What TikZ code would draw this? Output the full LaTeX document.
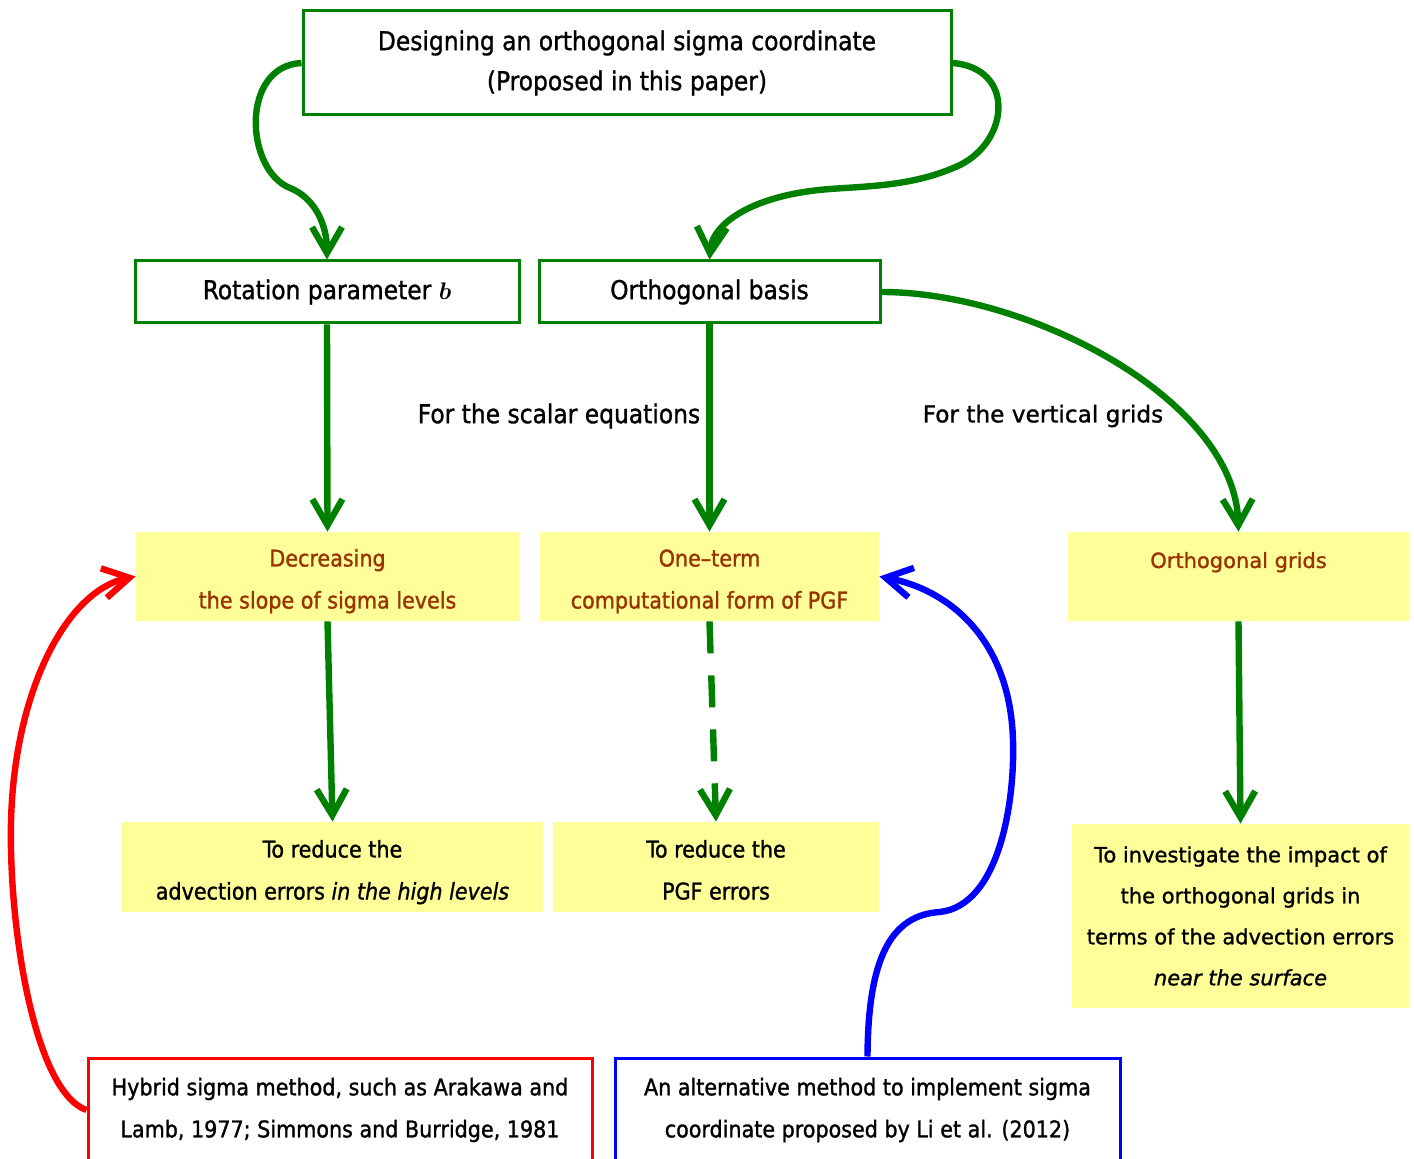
\documentclass[tikz,border=0pt]{standalone}
\usepackage{amsmath}
\usepackage{fontspec}
\setmainfont{DejaVu Sans Condensed}[FakeBold=1.2,AutoFakeBold=1.2]
\newfontfamily\widefont{DejaVu Sans}[FakeBold=1.2,AutoFakeBold=1.2]
\usetikzlibrary{arrows.meta}
\definecolor{dgreen}{RGB}{0,128,0}
\definecolor{pyellow}{RGB}{255,255,153}
\definecolor{tbrown}{RGB}{153,51,0}
\newcommand{\topstrut}[1]{\rule{0pt}{#1}}
\newcommand{\botstrut}{\rule[-3pt]{0pt}{0pt}}
\begin{document}
\begin{tikzpicture}[x=0.5pt,y=-0.5pt,
  gbox/.style={draw=dgreen, line width=1.5pt, fill=white, align=center, inner sep=0pt},
  ybox/.style={fill=pyellow, align=center, inner sep=0pt},
  rbox/.style={draw=red, line width=1.5pt, fill=white, align=center, inner sep=0pt},
  bbox/.style={draw=blue, line width=1.5pt, fill=white, align=center, inner sep=0pt},
  bigfont/.style={font=\fontsize{13}{20}\selectfont},
  smallfont/.style={font=\fontsize{11.5}{21}\selectfont},
  wfont/.style={font=\widefont\fontsize{10.5}{20.5}\selectfont},
  garrow/.style={draw=dgreen, line width=3.2pt, -{Straight Barb[length=13pt,width=15pt]}},
  rarrow/.style={draw=red, line width=3.2pt, -{Straight Barb[length=13pt,width=15pt]}},
  barrow/.style={draw=blue, line width=3.2pt, -{Straight Barb[length=13pt,width=15pt]}},
  lab/.style={inner sep=0pt}
]
\useasboundingbox (0,0) rectangle (1414,1159);
\clip (0,0) rectangle (1414,1159);

% boxes
\node[gbox, bigfont, minimum width=324pt, minimum height=52pt] (top) at (627,63)
  {Designing an orthogonal sigma coordinate\\(Proposed in this paper)};
\node[gbox, bigfont, minimum width=192pt, minimum height=31pt] (rot) at (327,292)
  {Rotation parameter $\boldsymbol{b}$};
\node[gbox, bigfont, minimum width=170.5pt, minimum height=31pt] (orth) at (709.5,292)
  {Orthogonal basis};

\node[ybox, text=tbrown, smallfont, minimum width=191.5pt, minimum height=44.5pt] (dec) at (327.5,576.5)
  {\topstrut{14pt}Decreasing\\the slope of sigma levels\botstrut};
\node[ybox, text=tbrown, smallfont, minimum width=169.5pt, minimum height=44.5pt] (one) at (709.5,576.5)
  {\topstrut{14pt}One--term\\computational form of PGF\botstrut};
\node[ybox, text=tbrown, wfont, minimum width=170.5pt, minimum height=44.5pt] (og) at (1238.5,576.5)
  {\rule[-16.5pt]{0pt}{10pt}Orthogonal grids};

\node[ybox, smallfont, minimum width=210.5pt, minimum height=45pt] (red1) at (332.5,867)
  {\topstrut{14.5pt}To reduce the\\advection errors \textit{in the high levels}\botstrut};
\node[ybox, smallfont, minimum width=163pt, minimum height=45pt] (red2) at (716,867)
  {\topstrut{14.5pt}To reduce the\\PGF errors\botstrut};
\node[ybox, wfont, minimum width=168.5pt, minimum height=92pt] (inv) at (1240.5,916)
  {To investigate the impact of\\the orthogonal grids in\\terms of the advection errors\\\textit{near the surface}};

\node[rbox, smallfont, minimum width=252pt, minimum height=52pt] (hyb) at (340,1110)
  {Hybrid sigma method, such as Arakawa and\\Lamb, 1977; Simmons and Burridge, 1981};
\node[bbox, smallfont, minimum width=252.5pt, minimum height=52pt] (alt) at (867.5,1110)
  {An alternative method to implement sigma\\coordinate proposed by Li et al. (2012)};

% labels
\node[lab, bigfont] (l1) at (559,416) {For the scalar equations};
\node[lab, font=\widefont\fontsize{11.6}{20}\selectfont] (l2) at (1043,416) {For the vertical grids};

% connectors
\draw[garrow] (top.west) .. controls (240,66) and (245,170) .. (290,188)
  .. controls (315,198) and (327,225) .. (rot.north);
\draw[garrow] (top.east) .. controls (1015,68) and (1010,140) .. (960,165)
  .. controls (915,186) and (870,186) .. (830,189)
  .. controls (750,195) and (712,225) .. (orth.north);
\draw[garrow] (orth.east) .. controls (1030,292) and (1235,400) .. (og.north);
\draw[garrow] (rot.south) -- (dec.north);
\draw[garrow] (orth.south) -- (one.north);
\draw[garrow] (dec.south) -- (red1.north);
\draw[garrow, dash pattern=on 16pt off 11pt] (one.south) -- (red2.north);
\draw[garrow] (og.south) -- (inv.north);
\draw[rarrow] (hyb.west) .. controls (30,1090) and (5,900) .. (12,800)
  .. controls (20,680) and (70,590) .. (dec.west);
\draw[barrow] (alt.north) .. controls (868,960) and (890,915) .. (940,912)
  .. controls (1000,905) and (1015,800) .. (1013,740)
  .. controls (1010,640) and (950,590) .. (one.east);
\end{tikzpicture}
\end{document}
